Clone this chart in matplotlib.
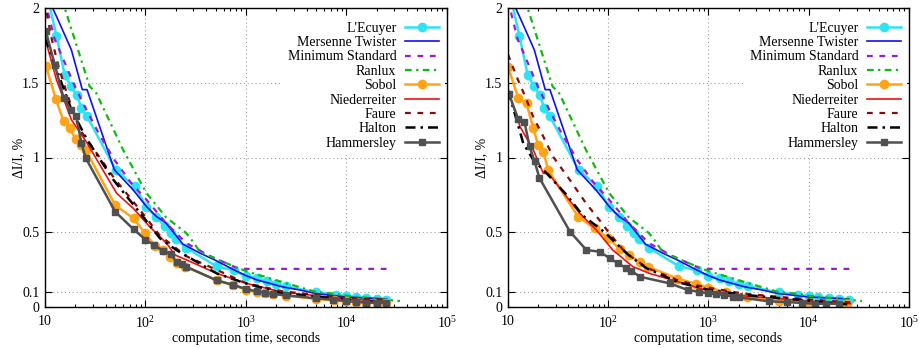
import numpy as np
import matplotlib
matplotlib.use('Agg')
import matplotlib.pyplot as plt
from matplotlib.ticker import LogLocator, NullFormatter

plt.rcParams['font.family'] = ['Liberation Serif', 'DejaVu Serif']
plt.rcParams['mathtext.fontset'] = 'custom'
plt.rcParams['mathtext.rm'] = 'Liberation Serif'
plt.rcParams['font.size'] = 10

# ---- pseudo-random generators (same in both panels) ----
lecuyer_t = [10, 13.0, 15.7, 18.0, 20.8, 23.0, 26.2, 50.5, 78, 102, 128, 155, 180, 203, 254,
             510, 760, 1000, 1300, 1600, 2000, 2500, 5000, 7900, 10000, 12500, 15800, 20000, 25000]
lecuyer_v = [2.15, 1.815, 1.554, 1.48, 1.416, 1.331, 1.275, 0.918, 0.807, 0.669, 0.602, 0.54, 0.495, 0.455, 0.395,
             0.272, 0.245, 0.205, 0.194, 0.172, 0.156, 0.138, 0.098, 0.082, 0.071, 0.065, 0.058, 0.053, 0.049]

mt_t = [10.5, 13.5, 18.3, 23.5, 26.2, 49, 75, 102, 128, 160, 236, 350, 505, 750, 1000, 1300, 2300, 3400, 5000, 10000, 25000]
mt_v = [2.08, 1.92, 1.72, 1.454, 1.454, 0.918, 0.785, 0.673, 0.606, 0.562, 0.42, 0.36, 0.31, 0.25, 0.21, 0.18,
        0.135, 0.114, 0.09, 0.067, 0.054]

minstd_t = [10, 12.5, 16.3, 20, 25.8, 35, 49, 70, 102, 160, 254, 440, 650, 850, 26000]
minstd_v = [2.05, 1.79, 1.61, 1.47, 1.32, 1.15, 0.985, 0.84, 0.718, 0.562, 0.428, 0.34, 0.29, 0.255, 0.255]

ranlux_t = [14.5, 15.7, 27.8, 32.4, 60, 102, 160, 254, 297, 347, 600, 1000, 2540, 5000, 7370, 10000, 34000]
ranlux_v = [2.1, 2.0, 1.476, 1.43, 1.05, 0.763, 0.6, 0.495, 0.437, 0.37, 0.30, 0.24, 0.158, 0.10, 0.09, 0.075, 0.04]

# ---- quasi-random sequences, left panel ----
sobol1_t = [10.2, 12.8, 15.3, 17.6, 20.2, 22.6, 25.4, 50, 76, 99, 124, 150, 175, 204, 247, 510, 745, 1010,
            1290, 1550, 1870, 2500, 5000, 7500, 10000, 12500, 15800, 20000, 25000]
sobol1_v = [1.614, 1.393, 1.242, 1.197, 1.124, 1.086, 1.05, 0.68, 0.593, 0.493, 0.41, 0.38, 0.337, 0.294, 0.27,
            0.18, 0.147, 0.114, 0.102, 0.092, 0.087, 0.076, 0.054, 0.045, 0.038, 0.033, 0.03, 0.027, 0.025]

nied1_t = [10, 13, 18.3, 26.2, 35.2, 51.7, 75.6, 110, 162, 197, 258, 510, 1010, 2300, 10000, 25000]
nied1_v = [1.8, 1.52, 1.253, 1.097, 0.95, 0.76, 0.66, 0.537, 0.426, 0.348, 0.314, 0.225, 0.158, 0.1, 0.054, 0.038]

faure1_t = [10, 10.5, 11.6, 13.5, 16.3, 22, 35, 49, 88, 138, 254, 505, 1000, 2300, 10000, 26000]
faure1_v = [2.05, 1.95, 1.8, 1.62, 1.44, 1.19, 1.0, 0.86, 0.65, 0.48, 0.34, 0.25, 0.16, 0.105, 0.06, 0.049]

halton1_t = [10, 13, 18.3, 26.2, 48, 88, 139, 204, 510, 940, 2300, 10000, 25000]
halton1_v = [1.8, 1.59, 1.32, 1.12, 0.85, 0.63, 0.46, 0.38, 0.225, 0.163, 0.09, 0.05, 0.027]

hamm1_t = [10.2, 12.5, 15.3, 18, 20.5, 23, 25.4, 50, 76, 100, 121, 150, 178, 204, 229, 254, 510, 750, 1010,
           1290, 1550, 1870, 2500, 5000, 7300, 10000, 12500, 15800, 20000, 25000]
hamm1_v = [1.844, 1.621, 1.398, 1.32, 1.275, 1.097, 0.997, 0.637, 0.52, 0.45, 0.415, 0.375, 0.355, 0.3, 0.285,
           0.27, 0.178, 0.147, 0.12, 0.104, 0.094, 0.087, 0.078, 0.058, 0.049, 0.04, 0.034, 0.03, 0.028, 0.027]

# ---- quasi-random sequences, right panel ----
sobol2_t = [10, 12.7, 15.3, 17.9, 20, 22.5, 25.2, 50, 73.5, 99.5, 130, 160, 206, 248, 490, 750, 1000, 1500,
            2400, 5000, 10000, 24000]
sobol2_v = [1.607, 1.396, 1.362, 1.195, 1.084, 1.039, 0.916, 0.604, 0.526, 0.46, 0.39, 0.35, 0.30, 0.27, 0.19,
            0.155, 0.13, 0.1, 0.07, 0.04, 0.028, 0.02]

nied2_t = [10, 13.2, 17.9, 22.5, 25.2, 38.4, 52, 76, 111, 176, 258, 550, 1000, 2200, 10000, 26000]
nied2_v = [1.45, 1.206, 1.05, 0.894, 0.894, 0.738, 0.627, 0.515, 0.381, 0.27, 0.225, 0.16, 0.108, 0.075, 0.04, 0.022]

faure2_t = [10, 12.2, 14.8, 17.9, 22.5, 28.2, 41.4, 60.6, 82, 103.5, 150, 247, 490, 870, 2200, 10000, 26000]
faure2_v = [1.69, 1.54, 1.41, 1.27, 1.14, 1.005, 0.85, 0.69, 0.58, 0.49, 0.36, 0.26, 0.18, 0.136, 0.09, 0.05, 0.031]

halton2_t = [10, 10.5, 12.2, 14.2, 17.9, 24.3, 38.4, 56, 92, 158, 240, 500, 1000, 2200, 10000, 26000]
halton2_v = [1.45, 1.40, 1.25, 1.095, 0.983, 0.894, 0.75, 0.61, 0.50, 0.35, 0.26, 0.165, 0.115, 0.082, 0.042, 0.016]

hamm2_t = [10.2, 12.6, 14.6, 16.4, 18.4, 20.6, 41.5, 60.6, 82, 103.5, 125, 152, 170, 206, 410, 620, 810, 980,
           1190, 1440, 1750, 2000, 4000, 6100, 8600, 11600, 14800, 20000]
hamm2_v = [1.427, 1.26, 1.237, 1.075, 0.974, 0.863, 0.504, 0.381, 0.37, 0.326, 0.292, 0.259, 0.243, 0.203,
           0.158, 0.114, 0.102, 0.092, 0.087, 0.08, 0.069, 0.065, 0.038, 0.033, 0.027, 0.022, 0.022, 0.022]

labels = ["L'Ecuyer", 'Mersenne Twister', 'Minimum Standard', 'Ranlux', 'Sobol',
          'Niederreiter', 'Faure', 'Halton', 'Hammersley']

styles = [
    dict(color='#2ee3f3', lw=1.8, marker='o', ms=6),
    dict(color='#1010ee', lw=1.2),
    dict(color='#9a1ad6', lw=1.6, dashes=(2.6, 3)),
    dict(color='#10bb10', lw=1.6, dashes=(3, 2, 1, 2)),
    dict(color='#ffa418', lw=1.8, marker='o', ms=6),
    dict(color='#ee1111', lw=1.2),
    dict(color='#8b0a0a', lw=1.6, dashes=(2.6, 3)),
    dict(color='black', lw=1.8, dashes=(4, 2, 1, 2)),
    dict(color='#505050', lw=1.8, marker='s', ms=4),
]

left_series = [(lecuyer_t, lecuyer_v), (mt_t, mt_v), (minstd_t, minstd_v), (ranlux_t, ranlux_v),
               (sobol1_t, sobol1_v), (nied1_t, nied1_v), (faure1_t, faure1_v), (halton1_t, halton1_v),
               (hamm1_t, hamm1_v)]
right_series = [(lecuyer_t, lecuyer_v), (mt_t, mt_v), (minstd_t, minstd_v), (ranlux_t, ranlux_v),
                (sobol2_t, sobol2_v), (nied2_t, nied2_v), (faure2_t, faure2_v), (halton2_t, halton2_v),
                (hamm2_t, hamm2_v)]

yticks = [0, 0.1, 0.5, 1, 1.5, 2]
ytick_labels = ['0', '0.1', '0.5', '1', '1.5', '2']
xticks = [10, 1e2, 1e3, 1e4, 1e5]
xtick_labels = ['10', r'$\mathregular{10^{2}}$', r'$\mathregular{10^{3}}$',
                r'$\mathregular{10^{4}}$', r'$\mathregular{10^{5}}$']


def draw_panel(ax, series):
    for (t, v), lab, st in zip(series, labels, styles):
        ax.plot(t, v, label=lab, **st)
    ax.set_xscale('log')
    ax.set_xlim(10, 1e5)
    ax.set_ylim(0, 2)
    ax.set_xticks(xticks)
    ax.set_xticklabels(xtick_labels)
    ax.xaxis.set_minor_locator(LogLocator(base=10, subs=np.arange(2, 10)))
    ax.xaxis.set_minor_formatter(NullFormatter())
    ax.set_yticks(yticks)
    ax.set_yticklabels(ytick_labels)
    ax.tick_params(which='both', direction='in', top=True, right=True, width=0.8)
    ax.tick_params(which='major', length=5)
    ax.tick_params(which='minor', length=2.5)
    ax.tick_params(axis='x', pad=6)
    ax.tick_params(axis='y', pad=4)
    ax.grid(True, which='major', color='#a0a0a0', lw=0.8, linestyle=(0, (1, 2.5)))
    ax.set_axisbelow(True)
    for sp in ax.spines.values():
        sp.set_linewidth(1.0)
    ax.set_xlabel('computation time, seconds')
    ax.set_ylabel('ΔI/I, %')
    ax.xaxis.set_label_coords(0.5, -0.085)
    ax.yaxis.set_label_coords(-0.05, 0.5)
    leg = ax.legend(loc='upper right', bbox_to_anchor=(1, 0.98), markerfirst=False, frameon=True,
                    fancybox=False, framealpha=1, edgecolor='none', handlelength=2.45,
                    handletextpad=0.65, labelspacing=0.1, borderpad=0.4, borderaxespad=0.15,
                    fontsize=10)
    leg.set_zorder(5)


fig = plt.figure(figsize=(9.2, 3.48), dpi=100)
ax1 = fig.add_axes([45 / 920, 41 / 348, 402 / 920, 299 / 348])
ax2 = fig.add_axes([508 / 920, 41 / 348, 401 / 920, 299 / 348])
draw_panel(ax1, left_series)
draw_panel(ax2, right_series)

fig.savefig('out.png', dpi=100)
